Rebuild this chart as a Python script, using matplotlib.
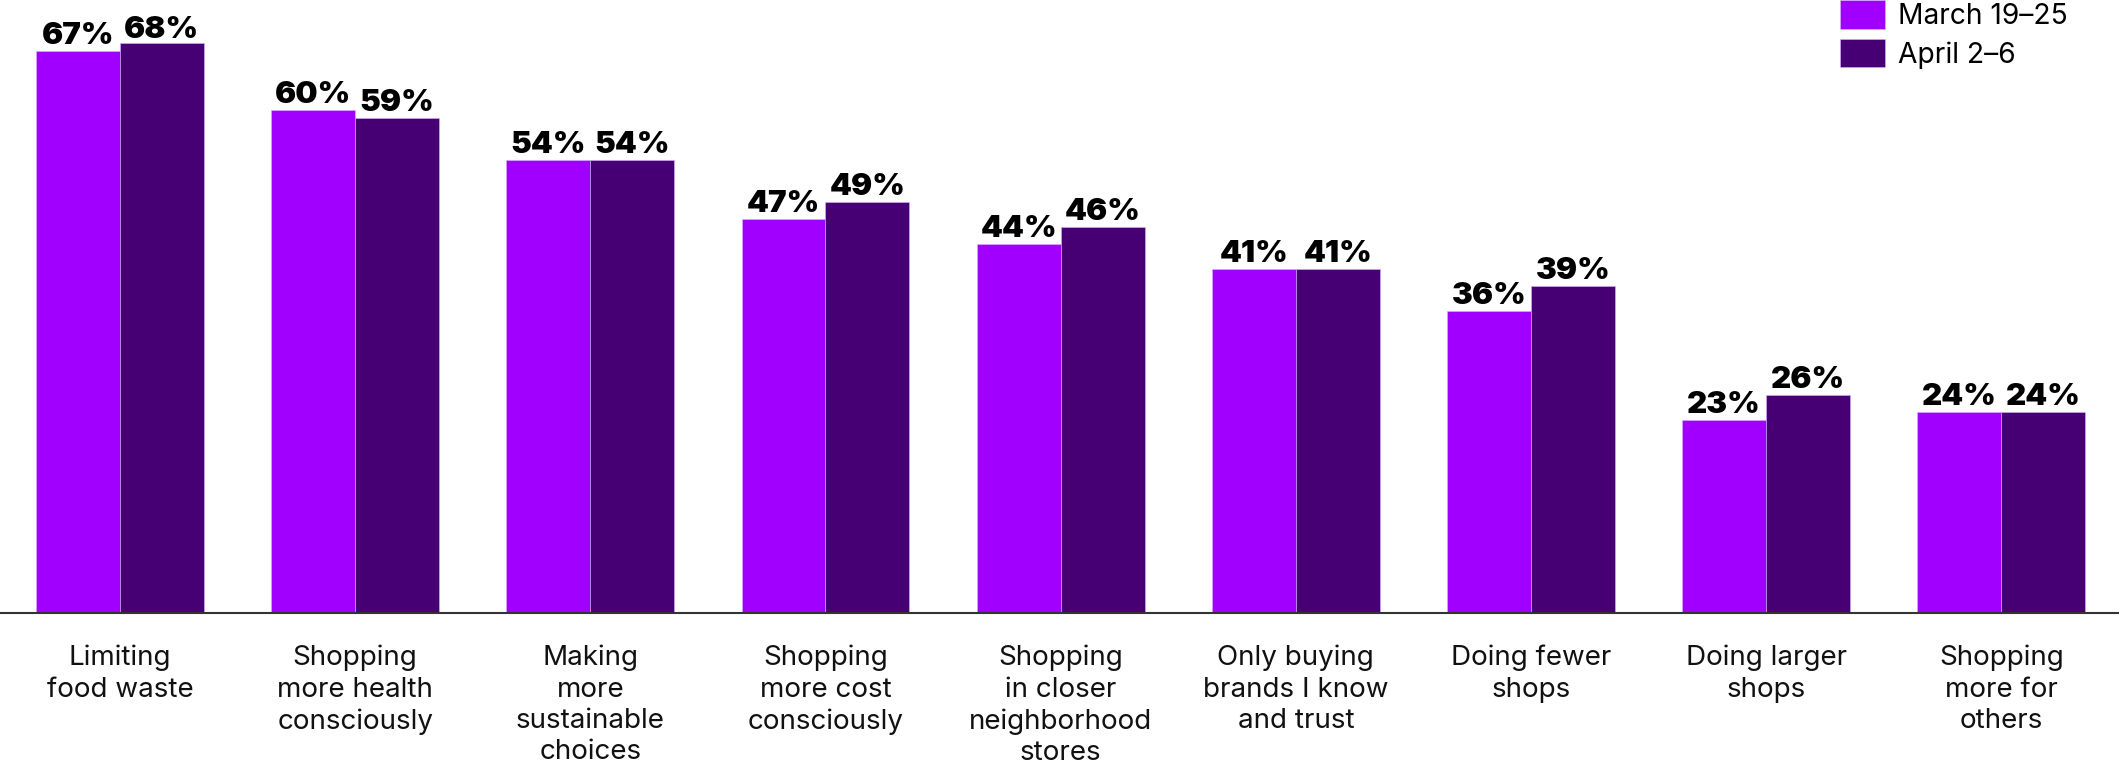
import matplotlib.pyplot as plt
import numpy as np

# Daten
categories = ["Limiting\nfood waste", "Shopping\nmore health\nconsciously",
              "Making\nmore\nsustainable\nchoices", "Shopping\nmore cost\nconsciously",
              "Shopping\nin closer\nneighborhood\nstores", "Only buying\nbrands I know\nand trust",
              "Doing fewer\nshops", "Doing larger\nshops", "Shopping\nmore for\nothers"]
march = [67, 60, 54, 47, 44, 41, 36, 23, 24]
april = [68, 59, 54, 49, 46, 41, 39, 26, 24]
series_names = ["March 19\u201325", "April 2\u20136"]
colors = ["#A100FF", "#460073"]

plt.rcParams['font.family'] = ['Inter', 'DejaVu Sans']

fig = plt.figure(figsize=(21.19, 7.66), dpi=100)
ax = fig.add_axes([0, 0.2, 1, 0.8])

x = np.arange(len(categories))
w = 0.357
for i, vals in enumerate([march, april]):
    ax.bar(x + (i - 0.5) * w, vals, width=w, color=colors[i],
           label=series_names[i], edgecolor="#d9b3ff", linewidth=0.4)
    # Beschriftung der Balken (oben begrenzt)
    for xi, v in zip(x + (i - 0.5) * w, vals):
        ax.annotate(f"{v}%", (xi, min(v, 67.7)), xytext=(0, 5), textcoords="offset points",
                    ha="center", va="baseline", fontsize=22.5, fontweight="black", color="black")

ax.set_xlim(-0.51, 8.50)
ax.set_ylim(0, 73.1)
ax.set_xticks(x)
ax.set_xticklabels(categories, fontsize=20, color="#111111", linespacing=1.27)
ax.tick_params(axis="x", length=0, pad=23)
ax.set_yticks([])
for s in ["top", "right", "left"]:
    ax.spines[s].set_visible(False)
ax.spines["bottom"].set_color("#333333")
ax.spines["bottom"].set_linewidth(1.5)

fig.legend(loc="upper left", bbox_to_anchor=(1840 / 2119, 1.0), frameon=False,
           fontsize=20.3, handlelength=1.58, handleheight=1.18, labelspacing=0.32,
           handletextpad=0.46, borderpad=0, borderaxespad=0)

fig.savefig("out.png", dpi=100)
